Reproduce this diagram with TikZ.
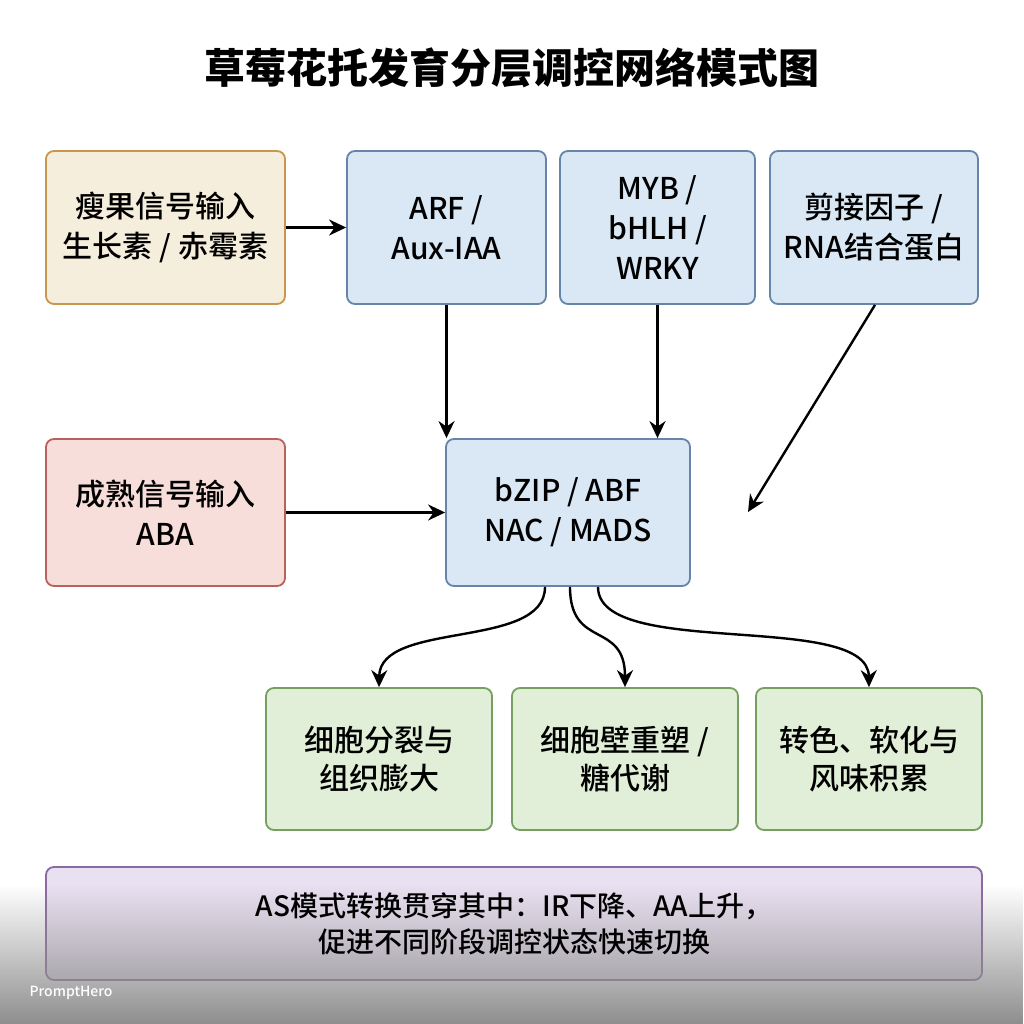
\documentclass[tikz,border=0pt]{standalone}
\usepackage{fontspec}
\setmainfont{Noto Sans CJK SC}[UprightFont=* Medium, BoldFont=* Black]
\usetikzlibrary{arrows.meta,fadings}
\definecolor{beigefill}{HTML}{F6EEDC}
\definecolor{beigeline}{HTML}{C9964F}
\definecolor{bluefill}{HTML}{DAE8F5}
\definecolor{blueline}{HTML}{6585AA}
\definecolor{redfill}{HTML}{F8DEDA}
\definecolor{redline}{HTML}{B8625B}
\definecolor{greenfill}{HTML}{E1EFD8}
\definecolor{greenline}{HTML}{76A05F}
\definecolor{purplefill}{HTML}{E9E0F1}
\definecolor{purpleline}{HTML}{8A6AA0}
\definecolor{shadegray}{HTML}{8E8E8E}
\tikzfading[name=bottomfade, top color=transparent!100, bottom color=transparent!0]
\tikzset{
  box/.style={rectangle, rounded corners=8pt, line width=1.8pt, inner sep=0pt,
    align=center, font=\fontsize{30}{40}\selectfont},
  beigebox/.style={box, draw=beigeline, fill=beigefill},
  bluebox/.style={box, draw=blueline, fill=bluefill},
  redbox/.style={box, draw=redline, fill=redfill},
  greenbox/.style={box, draw=greenline, fill=greenfill, font=\fontsize{30}{38}\selectfont},
  purpleshape/.style={rounded corners=8pt, line width=1.8pt, draw=purpleline, fill=purplefill},
  purpletext/.style={align=center, inner sep=0pt, font=\fontsize{28}{36}\selectfont},
  arr/.style={line width=2.4pt, -{Stealth[length=17pt,width=16pt]}},
}
\begin{document}
\begin{tikzpicture}[x=1pt,y=-1pt]
\useasboundingbox (0,0) rectangle (1024,1024);
\fill[white] (0,0) rectangle (1024,1024);

\node (title) at (512,68) {\fontsize{41}{48}\selectfont\bfseries 草莓花托发育分层调控网络模式图};

\node[beigebox, minimum width=239pt, minimum height=153pt] (A) at (165.5,227.5) {瘦果信号输入\\生长素 / 赤霉素};
\node[bluebox, minimum width=199pt, minimum height=153pt] (B) at (446.5,227.5) {ARF /\\Aux-IAA};
\node[bluebox, minimum width=195pt, minimum height=153pt] (C) at (657.5,227.5) {MYB /\\bHLH /\\WRKY};
\node[bluebox, minimum width=208pt, minimum height=153pt] (D) at (874,227.5) {剪接因子 /\\RNA结合蛋白};

\node[redbox, minimum width=239pt, minimum height=147pt] (E) at (165.5,512.5) {成熟信号输入\\ABA};
\node[bluebox, minimum width=244pt, minimum height=147pt] (F) at (568,512.5) {bZIP / ABF\\NAC / MADS};

\node[greenbox, minimum width=226pt, minimum height=142pt] (G1) at (379,759) {细胞分裂与\\组织膨大};
\node[greenbox, minimum width=226pt, minimum height=142pt] (G2) at (625,759) {细胞壁重塑 /\\糖代谢};
\node[greenbox, minimum width=226pt, minimum height=142pt] (G3) at (869,759) {转色、软化与\\风味积累};

\path[purpleshape] (46,867) rectangle (982,980);

\coordinate (dend) at (748,512);

\draw[arr] (A) -- (B);
\draw[arr] (B.south) -- (B.south |- F.north);
\draw[arr] (C.south) -- (C.south |- F.north);
\draw[arr] ([xshift=1pt]D.south) -- (dend);
\draw[arr] (E) -- (F);
\draw[arr] ([xshift=-23pt]F.south) .. controls (545,650) and (380,620) .. (G1.north);
\draw[arr] ([xshift=2pt]F.south) .. controls (570,650) and (625,620) .. (G2.north);
\draw[arr] ([xshift=30pt]F.south) .. controls (598,660) and (868,610) .. (G3.north);

\fill[shadegray, path fading=bottomfade] (0,885) rectangle (1024,1024);
\node[purpletext] (P) at (514,923.5) {AS模式转换贯穿其中：IR下降、AA上升，\\促进不同阶段调控状态快速切换};
\node[anchor=west, text=white, font=\fontsize{14}{16}\selectfont] (wm) at (26,993) {PromptHero};
\end{tikzpicture}
\end{document}
